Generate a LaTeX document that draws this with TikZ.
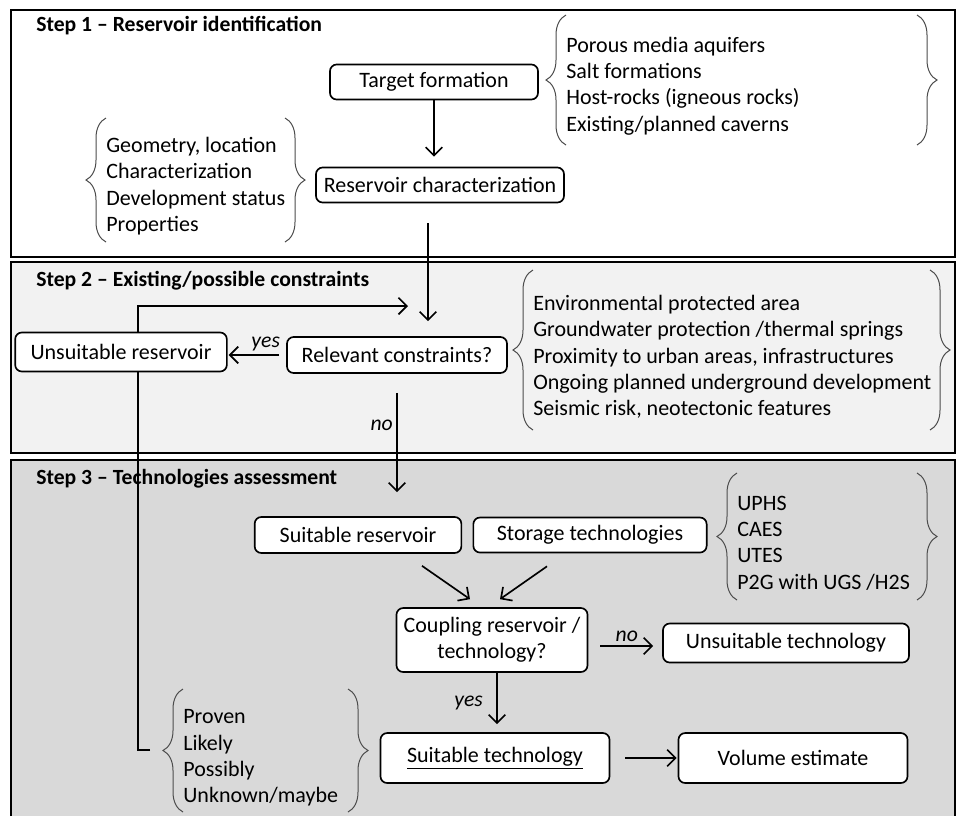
\documentclass[tikz,border=0pt]{standalone}
\usepackage{fontspec}
\setmainfont{Carlito}
\usetikzlibrary{arrows.meta,decorations.pathreplacing,calc}
\definecolor{stepII}{HTML}{F2F2F2}
\definecolor{stepIII}{HTML}{D9D9D9}

\begin{document}
\begin{tikzpicture}[x=0.6pt,y=-0.6pt]
        \tikzset{box/.style = {draw, rounded corners=4pt, line width=1pt, fill=white, inner sep=0pt, align=center, font=\fontsize{13.2}{15.5}\selectfont}}
        \tikzset{flow/.style = {-{Straight Barb[length=5pt,width=10pt]}, line width=1pt}}
        \tikzset{panel/.style = {draw, line width=1pt}}
        \tikzset{title/.style = {anchor=west, inner sep=0pt, font=\bfseries\fontsize{13}{15}\selectfont}}
        \tikzset{lst/.style = {anchor=west, inner sep=0pt, align=left, font=\fontsize{13.2}{15.8}\selectfont}}
        \tikzset{brc/.style = {decorate, decoration={brace, amplitude=12pt}, line width=0.6pt, draw=black!70}}
        \tikzset{lbl/.style = {font=\itshape\fontsize{13}{15}\selectfont, inner sep=2pt}}
        \useasboundingbox (0,0) rectangle (957,816);
        % panels
        \draw[panel, fill=white] (11,10) rectangle (955,257);
        \draw[panel, fill=stepII] (11,262) rectangle (955,453);
        \fill[stepIII] (11,460) rectangle (955,816);
        \draw[panel] (11,816) |- (955,460) -- (955,816);
        \node[title] (t1) at (36,26)  {Step 1 – Reservoir identification};
        \node[title] (t2) at (36,281) {Step 2 – Existing/possible constraints};
        \node[title] (t3) at (36,479) {Step 3 – Technologies assessment};
        % loop back
        \coordinate (prv) at (150,750);
        \coordinate (back) at (408,306);
        \draw[flow] (prv) -- ++(-12,0) |- (back);
        % vertices
        \node[box, minimum width=124.8pt, minimum height=21pt]   (tf)    at (434,82)  {Target formation};
        \node[box, minimum width=148.8pt, minimum height=21pt]   (rc)    at (440,185) {Reservoir characterization};
        \node[box, minimum width=132pt,   minimum height=21.6pt] (rcon)  at (397,355) {Relevant constraints?};
        \node[box, minimum width=127pt,   minimum height=23.4pt] (ures)  at (121,352) {Unsuitable reservoir};
        \node[box, minimum width=124pt,   minimum height=21.6pt] (sres)  at (358,535) {Suitable reservoir};
        \node[box, minimum width=140pt,   minimum height=21pt]   (stech) at (590,535) {Storage technologies};
        \node[box, minimum width=114.6pt, minimum height=38.4pt] (coup)  at (492,640) {Coupling reservoir /\\technology?};
        \node[box, minimum width=147.6pt, minimum height=23.4pt] (utech) at (786,643) {Unsuitable technology};
        \node[box, minimum width=137.4pt, minimum height=30pt]   (stch)  at (495,758) {\underline{Suitable technology}};
        \node[box, minimum width=137.4pt, minimum height=30pt]   (vol)   at (793,758) {Volume estimate};
        %edges
        \draw[flow, shorten >=6pt] (tf.south) -- (tf.south |- rc.north);
        \draw[flow, shorten <=12pt, shorten >=9pt] ([xshift=-7.2pt]rc.south) -- ([xshift=-7.2pt]rc.south |- rcon.north);
        \draw[flow, shorten <=4.2pt, shorten >=0.6pt] (rcon.west) -- (rcon.west -| ures.east) node[lbl, pos=0.35, above] {yes};
        \draw[flow, shorten <=11.4pt, shorten >=14.4pt] (rcon.south) -- (rcon.south |- sres.north) node[lbl, pos=0.36, left] {no};
        \draw[flow] ($(sres.south)+(64,12)$) -- ($(coup.north)+(-22,-8)$);
        \draw[flow] ($(stech.south)+(-43,13)$) -- ($(coup.north)+(8,-8)$);
        \draw[flow] ($(coup.east)+(12,6)$) -- ($(utech.west)+(-9,3)$) node[lbl, midway, above] {no};
        \draw[flow, shorten >=4.8pt] ([xshift=3pt]coup.south) -- ([xshift=3pt]coup.south |- stch.north) node[lbl, midway, left, xshift=-6pt] {yes};
        \draw[flow, shorten <=9pt, shorten >=0.6pt] (stch.east) -- (vol.west);
        % lists
        \node[lst] (fm) at (566,86) {Porous media aquifers\\Salt formations\\Host-rocks (igneous rocks)\\Existing/planned caverns};
        \draw[brc] (566,145) -- (566,15);
        \draw[brc] (917,15) -- (917,145);
        \node[lst] (geo) at (106,186) {Geometry, location\\Characterization\\Development status\\Properties};
        \draw[brc] (106,242) -- (106,118);
        \draw[brc] (285,118) -- (285,242);
        \node[lst] (cst) at (533,357) {Environmental protected area\\Groundwater protection /thermal springs\\Proximity to urban areas, infrastructures\\Ongoing planned underground development\\Seismic risk, neotectonic features};
        \draw[brc] (533,430) -- (533,270);
        \draw[brc] (930,270) -- (930,430);
        \node[lst] (tch) at (737,543) {UPHS\\CAES\\UTES\\P2G with UGS /H2S};
        \draw[brc] (737,600) -- (737,473);
        \draw[brc] (917,473) -- (917,600);
        \node[lst] (prf) at (183,758) {Proven\\Likely\\Possibly\\Unknown/maybe};
        \draw[brc] (183,812) -- (183,689);
        \draw[brc] (348,689) -- (348,812);
\end{tikzpicture}
\end{document}
